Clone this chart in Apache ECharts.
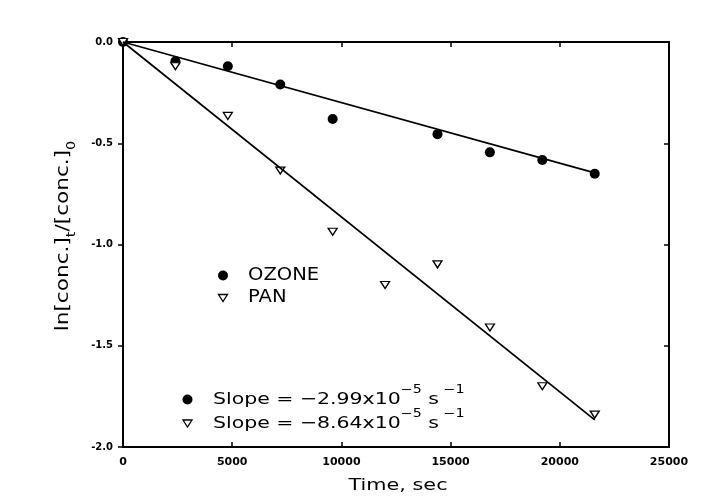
<!DOCTYPE html>
<html>
<head>
<meta charset="utf-8">
<script src="https://cdn.jsdelivr.net/npm/echarts@6/dist/echarts.min.js"></script>
<style>html,body{margin:0;padding:0;background:#fff}#c{width:719px;height:504px}</style>
</head>
<body>
<div id="c"></div>
<script>
// Time (s) of each sample and ln(c_t/c_0)
const ozoneTime = [0, 2400, 4800, 7200, 9600, 14400, 16800, 19200, 21600];
const ozoneLn   = [0, -0.095, -0.12, -0.21, -0.38, -0.455, -0.545, -0.583, -0.651];
const panTime   = [0, 2400, 4800, 7200, 9600, 12000, 14400, 16800, 19200, 21600];
const panLn     = [0, -0.12, -0.365, -0.635, -0.937, -1.2, -1.098, -1.41, -1.70, -1.84];
// fitted lines (endpoints)
const fitTime   = [0, 21600];
const ozoneFit  = [0, -0.646];
const panFit    = [0, -1.866];
const xTicks = [0, 5000, 10000, 15000, 20000, 25000];
const yTicks = ['0.0', '-0.5', '-1.0', '-1.5', '-2.0'];
const seriesNames = ['OZONE', 'PAN'];
const slopeTexts = ['−2.99', '−8.64'];

const zip = (a, b) => a.map((v, i) => [v, b[i]]);
const tri = 'path://M0,0 L10,0 L5,9 Z';
const FONT = 'DejaVu Sans';

const chart = echarts.init(document.getElementById('c'), null, {renderer: 'canvas'});
const axisLine = {show: true, onZero: false, lineStyle: {color: '#000', width: 2}};
const tick = {show: true, inside: true, length: 5, lineStyle: {color: '#000', width: 1.5}};
const richSlope = (raised) => ({
  b: {fontSize: 16.5, fontFamily: FONT, fill: '#000', verticalAlign: 'bottom', lineHeight: 24},
  m: {fontSize: 16.5, fontFamily: FONT, fill: '#000', verticalAlign: raised ? 'middle' : 'bottom', lineHeight: raised ? 30 : 24},
  s: {fontSize: 11.5, fontFamily: FONT, fill: '#000', verticalAlign: 'top', lineHeight: 24}
});
chart.setOption({
  backgroundColor: '#fff',
  animation: false,
  grid: {left: 123, right: 50, top: 42, bottom: 57},
  xAxis: [{
    type: 'value', min: 0, max: 25000, interval: 5000,
    axisLine: axisLine, splitLine: {show: false}, axisTick: tick,
    axisLabel: {color: '#000', fontSize: 11, fontWeight: 'bold', fontFamily: FONT, margin: 10,
      formatter: v => xTicks.includes(v) ? String(v) : ''}
  }, {
    type: 'value', position: 'top', min: 0, max: 25000, interval: 5000,
    axisLine: axisLine, splitLine: {show: false}, axisTick: tick,
    axisLabel: {show: false}
  }],
  yAxis: [{
    type: 'value', min: -2, max: 0, interval: 0.5,
    axisLine: axisLine, splitLine: {show: false},
    axisTick: {show: true, inside: false, length: 5, lineStyle: {color: '#000', width: 1.5}},
    axisLabel: {color: '#000', fontSize: 10, fontWeight: 'bold', fontFamily: FONT, margin: 10,
      formatter: v => yTicks[Math.round(-v / 0.5)]}
  }, {
    type: 'value', position: 'right', min: -2, max: 0, interval: 0.5,
    axisLine: axisLine, splitLine: {show: false}, axisTick: tick,
    axisLabel: {show: false}
  }],
  series: [
    {name: 'ozoneFit', type: 'line', data: zip(fitTime, ozoneFit), symbol: 'none',
      lineStyle: {color: '#000', width: 1.7}, silent: true},
    {name: 'panFit', type: 'line', data: zip(fitTime, panFit), symbol: 'none',
      lineStyle: {color: '#000', width: 1.7}, silent: true},
    {name: seriesNames[0], type: 'scatter', data: zip(ozoneTime, ozoneLn), symbol: 'circle', symbolSize: 10,
      itemStyle: {color: '#000', opacity: 1}},
    {name: seriesNames[1], type: 'scatter', data: zip(panTime, panLn), symbol: tri, symbolSize: [9, 7],
      itemStyle: {color: '#fff', borderColor: '#000', borderWidth: 1.3, opacity: 1}}
  ],
  graphic: [
    // axis titles
    {type: 'text', x: 398, y: 486, scaleX: 1.26, style: {text: 'Time, sec', font: '16.5px "DejaVu Sans"', fill: '#000', textAlign: 'center', textVerticalAlign: 'middle'}},
    {type: 'text', x: 66, y: 236, rotation: Math.PI / 2, scaleX: 1.2, style: {
      text: '{b|ln[conc.]}{u|t}{b|/[conc.]}{u|0}', textAlign: 'center', textVerticalAlign: 'middle',
      rich: {
        b: {fontSize: 18, fontFamily: FONT, fill: '#000', verticalAlign: 'top', lineHeight: 24},
        u: {fontSize: 12, fontFamily: FONT, fill: '#000', verticalAlign: 'bottom', lineHeight: 24}
      }}},
    // series key
    {type: 'circle', shape: {cx: 223, cy: 275.5, r: 5}, style: {fill: '#000'}},
    {type: 'text', x: 248, y: 275.5, scaleX: 1.15, style: {text: seriesNames[0], font: '17px "DejaVu Sans"', fill: '#000', textVerticalAlign: 'middle'}},
    {type: 'polygon', shape: {points: [[218.5, 294.5], [227.5, 294.5], [223, 301.5]]}, style: {fill: '#fff', stroke: '#000', lineWidth: 1.3}},
    {type: 'text', x: 248, y: 297.5, scaleX: 1.15, style: {text: seriesNames[1], font: '17px "DejaVu Sans"', fill: '#000', textVerticalAlign: 'middle'}},
    // slope key
    {type: 'circle', shape: {cx: 187.5, cy: 399.5, r: 5}, style: {fill: '#000'}},
    {type: 'polygon', shape: {points: [[183, 420], [192, 420], [187.5, 427]]}, style: {fill: '#fff', stroke: '#000', lineWidth: 1.3}},
    {type: 'text', x: 213, y: 384, scaleX: 1.24, style: {
      text: '{b|Slope = ' + slopeTexts[0] + 'x10}{s|−5}{b| s}{s| −1}', rich: richSlope(true)}},
    {type: 'text', x: 213, y: 408, scaleX: 1.24, style: {
      text: '{b|Slope = ' + slopeTexts[1] + 'x10}{s|−5}{b| s}{s| −1}', rich: richSlope(false)}}
  ]
});
</script>
</body>
</html>
